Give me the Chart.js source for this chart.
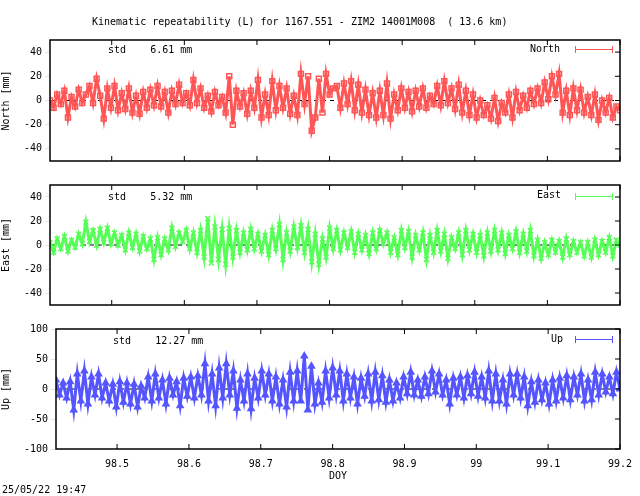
<!DOCTYPE html>
<html>
<head>
<meta charset="utf-8">
<script src="https://cdn.jsdelivr.net/npm/chart.js@4"></script>
<style>
  body { margin: 0; background: #fff; width: 640px; height: 496px; position: relative; overflow: hidden; font-family: "DejaVu Sans Mono", monospace; font-size: 10px; }
  canvas { position: absolute; left: 0; }
  .txt { position: absolute; white-space: pre; color: #000; }
  .leg { position: absolute; height: 1px; width: 38px; }
  .cap { position: absolute; width: 1px; height: 7px; }
</style>
</head>
<body>
<canvas id="cN" style="top:0px;width:640px;height:170px" width="640" height="170"></canvas>
<canvas id="cE" style="top:170px;width:640px;height:145px" width="640" height="145"></canvas>
<canvas id="cU" style="top:315px;width:640px;height:181px" width="640" height="181"></canvas>
<div class="txt" style="left:92px;top:16px;">Kinematic repeatability (L) for 1167.551 - ZIM2 14001M008  ( 13.6 km)</div>
<div class="txt" style="left:108px;top:44px;">std    6.61 mm</div>
<div class="txt" style="left:108px;top:191px;">std    5.32 mm</div>
<div class="txt" style="left:113px;top:335px;">std    12.27 mm</div>
<div class="txt" style="left:530px;top:43px;">North</div>
<div class="txt" style="left:537px;top:189px;">East</div>
<div class="txt" style="left:551px;top:333px;">Up</div>
<div class="leg" style="left:575px;top:49px;background:#ff5555"></div>
<div class="cap" style="left:575px;top:46px;background:#ff5555"></div>
<div class="cap" style="left:612px;top:46px;background:#ff5555"></div>
<div class="leg" style="left:575px;top:196px;background:#55ff55"></div>
<div class="cap" style="left:575px;top:193px;background:#55ff55"></div>
<div class="cap" style="left:612px;top:193px;background:#55ff55"></div>
<div class="leg" style="left:575px;top:339px;background:#5555ff"></div>
<div class="cap" style="left:575px;top:336px;background:#5555ff"></div>
<div class="cap" style="left:612px;top:336px;background:#5555ff"></div>
<div class="txt" style="left:2px;top:484px;">25/05/22 19:47</div>
<script>
const tStart = 98.415;
const tStep = 0.785 / 159;

const north = [
  0,-6,5,-3,8,-14,3,-5,9,-2,
  5,12,-2,18,4,-15,10,-6,12,-8,
  6,-7,10,-10,4,-11,7,-6,9,-4,
  12,-5,7,-10,8,-3,13,-2,6,-4,
  17,-2,10,-6,4,-9,7,-4,3,-10,
  20,-20,8,-5,6,-11,8,-6,17,-14,
  5,-12,16,-8,12,-6,10,-11,4,-12,
  22,-3,20,-25,-14,18,-10,22,5,10,
  12,-6,14,-3,16,-8,13,-10,9,-12,
  6,-14,8,-12,14,-15,5,-8,10,-6,
  7,-9,8,-5,10,-6,4,-3,12,-4,
  16,-2,10,-7,13,-10,8,-12,5,-14,
  0,-12,-4,-15,2,-17,-2,-10,5,-14,
  7,-8,4,-6,8,-3,10,-2,15,1,
  20,5,22,-10,8,-12,10,-8,9,-10,
  3,-12,5,-16,0,-10,2,-14,-5,-8
];
const east = [
  2,-6,5,-3,7,-5,4,-2,9,1,
  19,3,12,0,13,2,14,1,10,0,
  8,-4,10,-2,9,-5,7,-3,5,-12,
  6,-8,5,-4,14,-1,10,3,12,-3,
  10,-6,12,-10,22,-15,15,-12,13,-16,
  14,-10,12,-6,10,-4,13,-3,9,-5,
  8,-8,12,-3,17,-12,10,-5,15,-2,
  16,-6,13,-14,9,-16,5,-10,14,-3,
  12,-4,10,-2,11,-6,9,-4,8,-7,
  10,-3,12,1,10,-6,6,-8,12,-2,
  11,-10,8,-4,10,-12,8,-6,12,-5,
  9,-11,6,-3,10,-8,12,-4,9,-6,
  8,-9,10,-5,12,-4,10,-7,8,-3,
  11,-6,9,-5,12,-9,4,-11,2,-8,
  4,-6,3,-10,5,-8,3,-6,2,-9,
  2,-10,4,-8,3,-6,6,-9,4,0
];
const up = [
  15,-10,10,-15,12,-35,25,-20,30,-25,
  20,-10,25,-15,10,-20,8,-30,12,-22,
  10,-25,8,-30,5,-15,20,-20,25,-15,
  15,-25,18,-10,12,-28,18,-12,20,-15,
  22,-10,42,-20,25,-28,35,-15,42,-10,
  30,-32,15,-20,25,-33,18,-15,30,-10,
  25,-20,20,-25,15,-30,28,-20,30,-20,
  55,-35,38,-25,10,-22,30,-15,35,-10,
  30,-20,25,-15,20,-25,18,-12,25,-20,
  28,-18,22,-22,15,-20,10,-15,20,-8,
  28,-10,15,-12,20,-8,30,-5,25,-10,
  15,-25,18,-10,20,-15,22,-8,28,-12,
  20,-15,30,-20,25,-20,15,-25,25,-10,
  25,-15,20,-28,12,-22,15,-18,10,-25,
  15,-20,18,-15,22,-18,20,-10,25,-20,
  15,-18,28,-10,25,-5,20,-8,28,0
];
const xTicks = [98.5, 98.6, 98.7, 98.8, 98.9, 99, 99.1, 99.2];
const neTicks = [-40, -20, 0, 20, 40];
const upTicks = [-100, -50, 0, 50, 100];

const FONT = { family: "DejaVu Sans Mono", size: 10 };
Chart.defaults.color = "#000";
Chart.defaults.font = FONT;

const framePlugin = {
  id: "frame",
  beforeDatasetsDraw(chart) {
    const { ctx, chartArea: a, scales } = chart;
    const y0 = scales.y.getPixelForValue(0);
    ctx.save();
    ctx.strokeStyle = "#000";
    ctx.lineWidth = 1;
    ctx.setLineDash([4, 4]);
    ctx.beginPath();
    ctx.moveTo(a.left, y0); ctx.lineTo(a.right, y0);
    ctx.stroke();
    ctx.restore();
  },
  afterDraw(chart) {
    const { ctx, chartArea: a, scales } = chart;
    ctx.save();
    ctx.strokeStyle = "#000";
    ctx.lineWidth = 1.5;
    ctx.strokeRect(a.left, a.top, a.right - a.left, a.bottom - a.top);
    ctx.lineWidth = 1;
    ctx.beginPath();
    scales.y.ticks.forEach(t => {
      const p = scales.y.getPixelForValue(t.value);
      ctx.moveTo(a.right, p); ctx.lineTo(a.right - 5, p);
    });
    xTicks.forEach(v => {
      const p = scales.x.getPixelForValue(v);
      ctx.moveTo(p, a.top); ctx.lineTo(p, a.top + 5);
      ctx.moveTo(p, a.bottom); ctx.lineTo(p, a.bottom - 5);
    });
    ctx.stroke();
    ctx.restore();
  }
};

function makePanel(id, values, color, style, yMin, yMax, yTicks, yTitle, opts) {
  const pts = values.map((v, i) => ({ x: tStart + i * tStep, y: v }));
  return new Chart(document.getElementById(id), {
    type: "line",
    data: { datasets: [{
      data: pts, borderColor: color, backgroundColor: color, borderWidth: 3,
      pointStyle: style, pointRadius: 3.5, pointBorderWidth: 1.5,
      pointBackgroundColor: style === "rect" ? "rgba(255,255,255,0)" : color
    }] },
    options: {
      animation: false, responsive: false,
      layout: { padding: { top: opts.top, right: 20, bottom: opts.bottom, left: 0 } },
      plugins: { legend: { display: false }, tooltip: { enabled: false } },
      scales: {
        x: {
          type: "linear", min: tStart, max: 99.2,
          display: opts.showX,
          grid: { display: false },
          border: { display: false },
          afterBuildTicks: ax => { ax.ticks = xTicks.map(v => ({ value: v })); },
          ticks: { callback: v => String(Math.round(v * 10) / 10), maxRotation: 0, padding: 1 },
          title: { display: true, text: "DOY", padding: { top: 0, bottom: 14 } },
          afterFit: ax => { ax.height = opts.showX ? 47 : 0; }
        },
        y: {
          min: yMin, max: yMax,
          grid: { drawOnChartArea: false, tickLength: 5 },
          border: { display: false },
          afterBuildTicks: ax => { ax.ticks = yTicks.map(v => ({ value: v })); },
          ticks: { padding: 3 },
          title: { display: true, text: yTitle, padding: 0 },
          afterFit: ax => { ax.width = opts.left; }
        }
      }
    },
    plugins: [framePlugin]
  });
}

makePanel("cN", north, "#ff5555", "rect", -50, 50, neTicks, "North [mm]", { top: 40, bottom: 9, left: 50, showX: false });
makePanel("cE", east, "#55ff55", "crossRot", -50, 50, neTicks, "East [mm]", { top: 15, bottom: 10, left: 50, showX: false });
makePanel("cU", up, "#5555ff", "triangle", -100, 100, upTicks, "Up [mm]", { top: 14, bottom: 0, left: 56, showX: true });
</script>
</body>
</html>
